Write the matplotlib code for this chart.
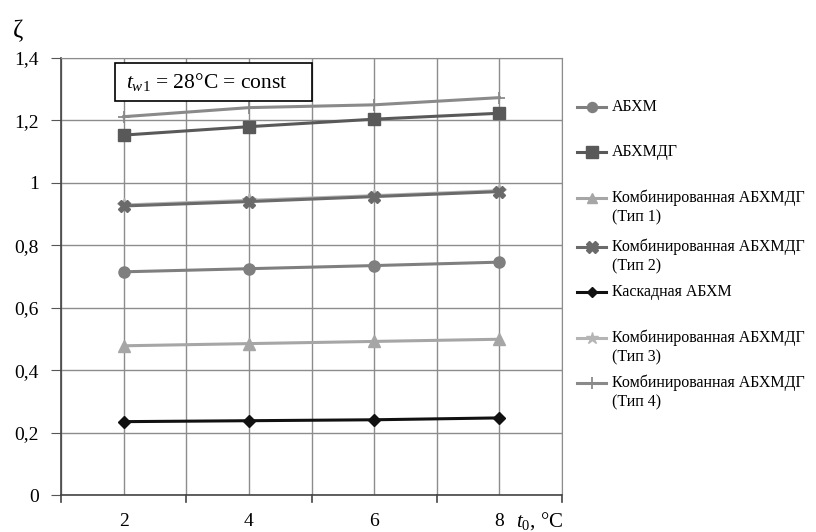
import numpy as np
import matplotlib
matplotlib.use('Agg')
import matplotlib.pyplot as plt
from matplotlib.lines import Line2D
from matplotlib.patches import Rectangle

plt.rcParams['font.family'] = ['Liberation Serif', 'DejaVu Serif']
plt.rcParams['mathtext.fontset'] = 'custom'
plt.rcParams['mathtext.rm'] = 'Liberation Serif'
plt.rcParams['mathtext.it'] = 'Liberation Serif:italic'

# данные
t0 = [2, 4, 6, 8]
abhm = [0.715, 0.725, 0.735, 0.746]
abhmdg = [1.153, 1.180, 1.204, 1.223]
komb1 = [0.478, 0.485, 0.492, 0.499]
komb2 = [0.926, 0.940, 0.956, 0.972]
kaskad = [0.235, 0.238, 0.241, 0.247]
komb3 = [0.929, 0.944, 0.959, 0.975]
komb4 = [1.212, 1.241, 1.250, 1.273]

names = ['АБХМ', 'АБХМДГ', 'Комбинированная АБХМДГ\n(Тип 1)',
         'Комбинированная АБХМДГ\n(Тип 2)', 'Каскадная АБХМ',
         'Комбинированная АБХМДГ\n(Тип 3)', 'Комбинированная АБХМДГ\n(Тип 4)']
series = [abhm, abhmdg, komb1, komb2, kaskad, komb3, komb4]
colors = ['#7f7f7f', '#595959', '#a6a6a6', '#6a6a6a', '#111111', '#b5b5b5', '#8a8a8a']
markers = ['o', 's', '^', 'X', 'D', '*', '+']
msizes = [8, 9, 8, 9, 6, 10, 9]

fig = plt.figure(figsize=(8.16, 5.32), dpi=100)
ax = fig.add_axes([61 / 816, 1 - 495 / 532, 501 / 816, 437 / 532])

grid_c = '#8c8c8c'
order = [4, 2, 0, 5, 3, 1, 6]
for i in order:
    ax.plot(t0, series[i], color=colors[i], marker=markers[i], ms=msizes[i],
            lw=2.2, mew=1.3 if markers[i] == '+' else 1, zorder=3)

ax.set_xlim(1, 9)
ax.set_ylim(0, 1.4)
ax.set_xticks(t0)
ax.set_xticklabels([str(v) for v in t0])
ax.set_yticks(np.arange(0, 1.41, 0.2))
ax.set_yticklabels(['0'] + [('%.1f' % v).replace('.', ',').replace('1,0', '1')
                            for v in np.arange(0.2, 1.41, 0.2)])
ax.set_xticks(range(1, 10), minor=True)
ax.grid(True, which='both', axis='x', color=grid_c, lw=1)
ax.grid(True, which='major', axis='y', color=grid_c, lw=1)
ax.set_axisbelow(True)
ax.tick_params(axis='x', which='major', length=0, pad=13, labelsize=14)
ax.tick_params(axis='x', which='minor', length=0)
ax.tick_params(axis='y', length=7, color='#555555', labelsize=14, pad=9)
for s in ['top', 'right']:
    ax.spines[s].set_color(grid_c)
for s in ['left', 'bottom']:
    ax.spines[s].set_color('#444444')
    ax.spines[s].set_linewidth(1.2)
# засечки на нижней оси
for xv in [1, 3, 5, 7, 9]:
    ax.plot([xv, xv], [0, -0.022], color='#444444', lw=1.2, clip_on=False)

fig.text(13 / 816, 1 - 31 / 532, 'ζ', fontsize=18, va='center')
fig.text(516 / 816, 1 - 521 / 532, r'$t_0$, °C', fontsize=15, va='center')

# рамка с подписью
fig.add_artist(Rectangle((115 / 816, 1 - 101 / 532), 197 / 816, 38 / 532,
                         transform=fig.transFigure, fc='white', ec='black', lw=1.2, zorder=5))
fig.text(126 / 816, 1 - 82 / 532, r'$t_{w1}$ = 28°C = const', fontsize=15.5, va='center', zorder=6)

# легенда
ys = [107, 152, 198, 247, 292, 338, 383]
for i in range(7):
    y = 1 - ys[i] / 532
    fig.add_artist(Line2D([577 / 816, 606 / 816], [y, y], color=colors[i], lw=2.2))
    fig.add_artist(Line2D([591.5 / 816], [y], color=colors[i], marker=markers[i],
                          ms=msizes[i] * 0.9, mew=1.3 if markers[i] == '+' else 1))
    parts = names[i].split('\n')
    for k, p in enumerate(parts):
        fig.text(612 / 816, y - k * 19 / 532, p, fontsize=11.5, va='center')

fig.savefig('out.png', dpi=100)
